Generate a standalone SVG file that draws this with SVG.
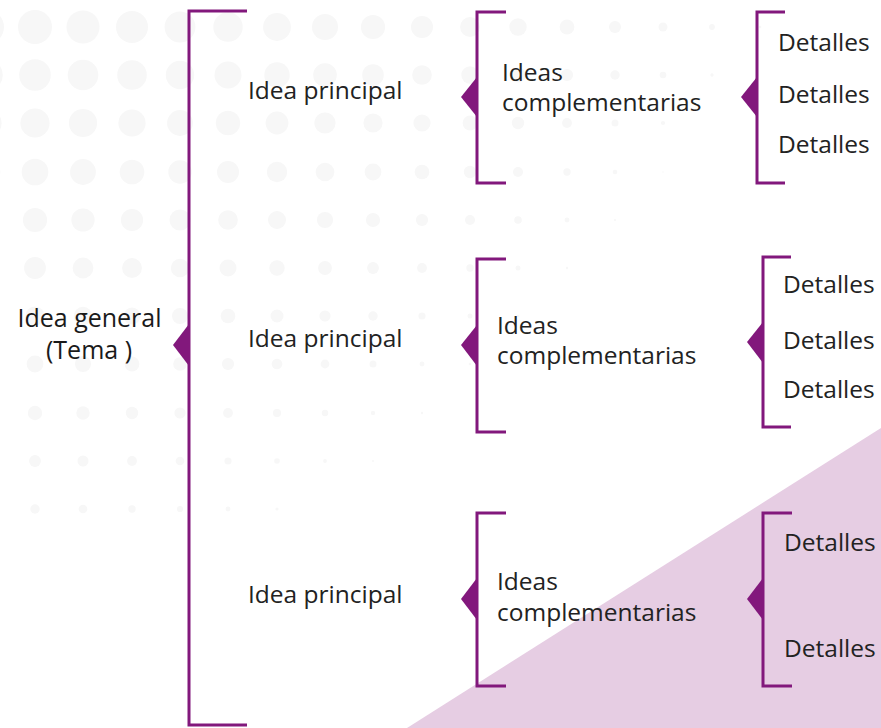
<svg xmlns="http://www.w3.org/2000/svg" width="881" height="728" viewBox="0 0 881 728">
<style>
.d{fill:#f7f7f7}
.br{fill:none;stroke:#82187c;stroke-width:3}
.ar{fill:#82187c}
.t{font-family:"Open Sans","Noto Sans","Liberation Sans",sans-serif;font-size:24.5px;fill:#222222}
.tg{font-family:"Open Sans","Noto Sans","Liberation Sans",sans-serif;font-size:25px;fill:#1a1a1a;text-anchor:middle}
</style>
<rect width="881" height="728" fill="#ffffff"/>
<g id="dots">
<circle class="d" cx="-13" cy="27" r="17"/><circle class="d" cx="35" cy="27" r="17"/><circle class="d" cx="83" cy="27" r="16.5"/><circle class="d" cx="132" cy="27" r="16"/><circle class="d" cx="180" cy="27" r="15.4"/><circle class="d" cx="228" cy="27" r="14.7"/><circle class="d" cx="277" cy="27" r="13.9"/><circle class="d" cx="325" cy="27" r="13"/><circle class="d" cx="373" cy="27" r="12.1"/><circle class="d" cx="422" cy="27" r="11"/><circle class="d" cx="470" cy="27" r="9.9"/><circle class="d" cx="518" cy="27" r="8.7"/><circle class="d" cx="567" cy="27" r="7.4"/><circle class="d" cx="615" cy="27" r="6"/><circle class="d" cx="663" cy="27" r="4.5"/><circle class="d" cx="712" cy="27" r="2.9"/><circle class="d" cx="760" cy="27" r="1.3"/>
<circle class="d" cx="-13" cy="75" r="15.8"/><circle class="d" cx="35" cy="75" r="15.8"/><circle class="d" cx="83" cy="75" r="15.3"/><circle class="d" cx="132" cy="75" r="14.8"/><circle class="d" cx="180" cy="75" r="14.2"/><circle class="d" cx="228" cy="75" r="13.5"/><circle class="d" cx="277" cy="75" r="12.7"/><circle class="d" cx="325" cy="75" r="11.8"/><circle class="d" cx="373" cy="75" r="10.8"/><circle class="d" cx="422" cy="75" r="9.8"/><circle class="d" cx="470" cy="75" r="8.7"/><circle class="d" cx="518" cy="75" r="7.5"/><circle class="d" cx="567" cy="75" r="6.1"/><circle class="d" cx="615" cy="75" r="4.7"/><circle class="d" cx="663" cy="75" r="3.3"/><circle class="d" cx="712" cy="75" r="1.7"/>
<circle class="d" cx="-13" cy="123" r="14.6"/><circle class="d" cx="35" cy="123" r="14.6"/><circle class="d" cx="83" cy="123" r="14.1"/><circle class="d" cx="132" cy="123" r="13.6"/><circle class="d" cx="180" cy="123" r="12.9"/><circle class="d" cx="228" cy="123" r="12.2"/><circle class="d" cx="277" cy="123" r="11.4"/><circle class="d" cx="325" cy="123" r="10.6"/><circle class="d" cx="373" cy="123" r="9.6"/><circle class="d" cx="422" cy="123" r="8.6"/><circle class="d" cx="470" cy="123" r="7.4"/><circle class="d" cx="518" cy="123" r="6.2"/><circle class="d" cx="567" cy="123" r="4.9"/><circle class="d" cx="615" cy="123" r="3.5"/><circle class="d" cx="663" cy="123" r="2.1"/>
<circle class="d" cx="-13" cy="172" r="13.3"/><circle class="d" cx="35" cy="172" r="13.3"/><circle class="d" cx="83" cy="172" r="12.9"/><circle class="d" cx="132" cy="172" r="12.3"/><circle class="d" cx="180" cy="172" r="11.7"/><circle class="d" cx="228" cy="172" r="11"/><circle class="d" cx="277" cy="172" r="10.2"/><circle class="d" cx="325" cy="172" r="9.3"/><circle class="d" cx="373" cy="172" r="8.4"/><circle class="d" cx="422" cy="172" r="7.3"/><circle class="d" cx="470" cy="172" r="6.2"/><circle class="d" cx="518" cy="172" r="5"/><circle class="d" cx="567" cy="172" r="3.7"/><circle class="d" cx="615" cy="172" r="2.3"/><circle class="d" cx="663" cy="172" r="0.8"/>
<circle class="d" cx="-13" cy="220" r="12.1"/><circle class="d" cx="35" cy="220" r="12.1"/><circle class="d" cx="83" cy="220" r="11.6"/><circle class="d" cx="132" cy="220" r="11.1"/><circle class="d" cx="180" cy="220" r="10.5"/><circle class="d" cx="228" cy="220" r="9.8"/><circle class="d" cx="277" cy="220" r="9"/><circle class="d" cx="325" cy="220" r="8.1"/><circle class="d" cx="373" cy="220" r="7.1"/><circle class="d" cx="422" cy="220" r="6.1"/><circle class="d" cx="470" cy="220" r="5"/><circle class="d" cx="518" cy="220" r="3.8"/><circle class="d" cx="567" cy="220" r="2.4"/><circle class="d" cx="615" cy="220" r="1.1"/>
<circle class="d" cx="-13" cy="268" r="10.9"/><circle class="d" cx="35" cy="268" r="10.9"/><circle class="d" cx="83" cy="268" r="10.4"/><circle class="d" cx="132" cy="268" r="9.9"/><circle class="d" cx="180" cy="268" r="9.2"/><circle class="d" cx="228" cy="268" r="8.5"/><circle class="d" cx="277" cy="268" r="7.7"/><circle class="d" cx="325" cy="268" r="6.9"/><circle class="d" cx="373" cy="268" r="5.9"/><circle class="d" cx="422" cy="268" r="4.9"/><circle class="d" cx="470" cy="268" r="3.7"/><circle class="d" cx="518" cy="268" r="2.5"/><circle class="d" cx="567" cy="268" r="1.2"/>
<circle class="d" cx="-13" cy="316" r="9.6"/><circle class="d" cx="35" cy="316" r="9.6"/><circle class="d" cx="83" cy="316" r="9.2"/><circle class="d" cx="132" cy="316" r="8.6"/><circle class="d" cx="180" cy="316" r="8"/><circle class="d" cx="228" cy="316" r="7.3"/><circle class="d" cx="277" cy="316" r="6.5"/><circle class="d" cx="325" cy="316" r="5.6"/><circle class="d" cx="373" cy="316" r="4.7"/><circle class="d" cx="422" cy="316" r="3.6"/><circle class="d" cx="470" cy="316" r="2.5"/><circle class="d" cx="518" cy="316" r="1.3"/>
<circle class="d" cx="-13" cy="364" r="8.4"/><circle class="d" cx="35" cy="364" r="8.4"/><circle class="d" cx="83" cy="364" r="8"/><circle class="d" cx="132" cy="364" r="7.4"/><circle class="d" cx="180" cy="364" r="6.8"/><circle class="d" cx="228" cy="364" r="6.1"/><circle class="d" cx="277" cy="364" r="5.3"/><circle class="d" cx="325" cy="364" r="4.4"/><circle class="d" cx="373" cy="364" r="3.5"/><circle class="d" cx="422" cy="364" r="2.4"/><circle class="d" cx="470" cy="364" r="1.3"/>
<circle class="d" cx="-13" cy="413" r="7.2"/><circle class="d" cx="35" cy="413" r="7.2"/><circle class="d" cx="83" cy="413" r="6.7"/><circle class="d" cx="132" cy="413" r="6.2"/><circle class="d" cx="180" cy="413" r="5.6"/><circle class="d" cx="228" cy="413" r="4.9"/><circle class="d" cx="277" cy="413" r="4.1"/><circle class="d" cx="325" cy="413" r="3.2"/><circle class="d" cx="373" cy="413" r="2.2"/><circle class="d" cx="422" cy="413" r="1.2"/>
<circle class="d" cx="-13" cy="461" r="5.9"/><circle class="d" cx="35" cy="461" r="5.9"/><circle class="d" cx="83" cy="461" r="5.5"/><circle class="d" cx="132" cy="461" r="4.9"/><circle class="d" cx="180" cy="461" r="4.3"/><circle class="d" cx="228" cy="461" r="3.6"/><circle class="d" cx="277" cy="461" r="2.8"/><circle class="d" cx="325" cy="461" r="1.9"/><circle class="d" cx="373" cy="461" r="1"/>
<circle class="d" cx="-13" cy="509" r="4.7"/><circle class="d" cx="35" cy="509" r="4.7"/><circle class="d" cx="83" cy="509" r="4.3"/><circle class="d" cx="132" cy="509" r="3.7"/><circle class="d" cx="180" cy="509" r="3.1"/><circle class="d" cx="228" cy="509" r="2.4"/><circle class="d" cx="277" cy="509" r="1.6"/>
</g>
<polygon id="bg-triangle" points="881,428 881,728 407,728" fill="#e6cde3"/>
<g id="connectors">
<path class="br" d="M247,11 H189 V725 H247"/>
<polygon class="ar" points="189,324 173,345 189,366"/>
<path class="br" d="M506,12 H477 V183 H506"/>
<polygon class="ar" points="477,77 461,97 477,117"/>
<path class="br" d="M785,12 H757 V183 H785"/>
<polygon class="ar" points="757,77 741,97 757,117"/>
<path class="br" d="M506,259 H477 V432 H506"/>
<polygon class="ar" points="477,325 461,345 477,366"/>
<path class="br" d="M791,257 H763 V427 H791"/>
<polygon class="ar" points="763,322 747,342 763,363"/>
<path class="br" d="M506,513 H477 V686 H506"/>
<polygon class="ar" points="477,578 461,599 477,620"/>
<path class="br" d="M792,513 H763 V686 H792"/>
<polygon class="ar" points="763,578 747,599 763,620"/>
</g>
<g id="idea-general"><text class="tg" x="89.5" y="327">Idea general</text><text class="tg" x="89" y="359">(Tema )</text></g>
<g id="principal-1"><text class="t" x="248" y="99">Idea principal</text></g>
<g id="principal-2"><text class="t" x="248" y="347">Idea principal</text></g>
<g id="principal-3"><text class="t" x="248" y="603">Idea principal</text></g>
<g id="complementarias-1"><text class="t" x="502" y="81">Ideas</text><text class="t" x="502" y="111">complementarias</text></g>
<g id="complementarias-2"><text class="t" x="497" y="334">Ideas</text><text class="t" x="497" y="364">complementarias</text></g>
<g id="complementarias-3"><text class="t" x="497" y="590">Ideas</text><text class="t" x="497" y="621">complementarias</text></g>
<g id="detalles-1"><text class="t" x="778" y="51">Detalles</text><text class="t" x="778" y="103">Detalles</text><text class="t" x="778" y="153">Detalles</text></g>
<g id="detalles-2"><text class="t" x="783" y="293">Detalles</text><text class="t" x="783" y="349">Detalles</text><text class="t" x="783" y="398">Detalles</text></g>
<g id="detalles-3"><text class="t" x="784" y="551">Detalles</text><text class="t" x="784" y="657">Detalles</text></g>
</svg>
